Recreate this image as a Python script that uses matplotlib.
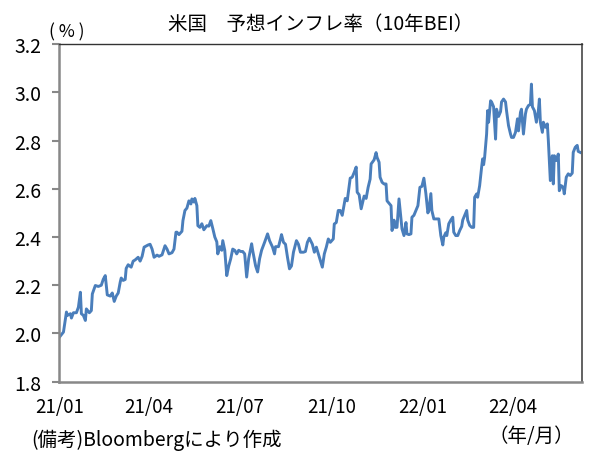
import numpy as np
import pandas as pd
import matplotlib
matplotlib.use("Agg")
import matplotlib.pyplot as plt
import matplotlib.dates as mdates

plt.rcParams['font.family'] = ['Noto Sans CJK JP', 'DejaVu Sans']

# days counted from 2021-01-01
days = [0, 4, 7, 8, 11, 12, 14, 17, 19, 21, 22, 24, 26, 27, 30, 32, 33, 36, 39, 42,
        44, 46, 48, 51, 53, 55, 57, 59, 61, 62, 64, 66, 67, 69, 72, 74, 76, 79, 81, 83,
        85, 89, 91, 93, 95, 98, 100, 103, 106, 108, 110, 113, 115, 117, 118, 120, 123, 124, 126, 128,
        130, 132, 133, 135, 136, 138, 139, 141, 143, 145, 148, 150, 152, 154, 156, 158, 159, 161, 163, 164,
        166, 168, 170, 172, 174, 176, 178, 180, 182, 184, 186, 188, 190, 193, 194, 197, 199, 201, 203, 206,
        209, 211, 214, 216, 217, 220, 222, 223, 225, 227, 229, 231, 233, 235, 238, 240, 242, 245, 247, 249,
        251, 254, 256, 258, 260, 262, 264, 266, 268, 270, 272, 275, 276, 278, 280, 282, 284, 287, 289, 292,
        294, 296, 298, 299, 301, 303, 306, 308, 310, 312, 313, 316, 318, 319, 321, 322, 324, 326, 328, 329,
        331, 333, 334, 336, 337, 339, 341, 343, 344, 346, 348, 349, 351, 353, 354, 356, 358, 360, 362, 364,
        366, 368, 370, 371, 373, 374, 376, 379, 381, 383, 385, 386, 388, 389, 391, 393, 395, 396, 398, 400,
        402, 404, 405, 407, 409, 410, 412, 414, 416, 417, 419, 420, 422, 424, 425, 426, 427, 429, 430, 431,
        433, 434, 436, 438, 439, 441, 443, 444, 446, 448, 449, 451, 453, 454, 456, 458, 460, 461, 463, 464,
        466, 468, 469, 471, 473, 474, 475, 477, 479, 481, 482, 483, 485, 486, 488, 490, 491, 492, 493, 495,
        496, 497, 499, 501, 502, 504, 506, 507, 509, 511, 513, 515, 516, 518, 520, 521, 523]

bei = [1.985, 2.006, 2.089, 2.075, 2.082, 2.064, 2.086, 2.086, 2.109, 2.171, 2.082, 2.075, 2.054, 2.102, 2.086, 2.095, 2.164, 2.199, 2.195, 2.200,
       2.225, 2.240, 2.160, 2.155, 2.168, 2.133, 2.155, 2.168, 2.213, 2.230, 2.220, 2.224, 2.270, 2.285, 2.275, 2.300, 2.305, 2.316, 2.300, 2.320,
       2.358, 2.367, 2.370, 2.350, 2.316, 2.325, 2.320, 2.326, 2.364, 2.350, 2.330, 2.335, 2.350, 2.420, 2.420, 2.410, 2.424, 2.468, 2.510, 2.520,
       2.550, 2.537, 2.558, 2.545, 2.560, 2.530, 2.447, 2.440, 2.455, 2.430, 2.447, 2.445, 2.468, 2.435, 2.400, 2.380, 2.330, 2.360, 2.345, 2.385,
       2.345, 2.240, 2.280, 2.310, 2.350, 2.345, 2.330, 2.345, 2.340, 2.340, 2.330, 2.234, 2.310, 2.372, 2.345, 2.280, 2.255, 2.310, 2.345, 2.378,
       2.413, 2.385, 2.358, 2.330, 2.360, 2.360, 2.392, 2.410, 2.378, 2.370, 2.316, 2.268, 2.280, 2.337, 2.385, 2.370, 2.337, 2.337, 2.340, 2.378,
       2.395, 2.370, 2.337, 2.358, 2.330, 2.302, 2.275, 2.330, 2.358, 2.392, 2.378, 2.392, 2.454, 2.460, 2.510, 2.510, 2.490, 2.560, 2.550, 2.644,
       2.648, 2.668, 2.690, 2.586, 2.575, 2.517, 2.570, 2.560, 2.606, 2.640, 2.703, 2.720, 2.750, 2.730, 2.710, 2.648, 2.627, 2.620, 2.620, 2.550,
       2.540, 2.530, 2.427, 2.470, 2.440, 2.440, 2.558, 2.475, 2.434, 2.406, 2.460, 2.413, 2.410, 2.413, 2.482, 2.490, 2.510, 2.530, 2.606, 2.610,
       2.644, 2.580, 2.500, 2.510, 2.580, 2.510, 2.475, 2.475, 2.475, 2.406, 2.367, 2.400, 2.418, 2.406, 2.455, 2.470, 2.482, 2.420, 2.406, 2.406,
       2.427, 2.444, 2.470, 2.490, 2.510, 2.470, 2.448, 2.440, 2.440, 2.565, 2.579, 2.565, 2.613, 2.690, 2.724, 2.700, 2.730, 2.827, 2.924, 2.876,
       2.965, 2.960, 2.940, 2.806, 2.930, 2.900, 2.920, 2.960, 2.972, 2.960, 2.924, 2.862, 2.827, 2.813, 2.813, 2.834, 2.890, 2.840, 2.917, 2.930,
       2.827, 2.910, 2.930, 2.945, 2.950, 3.034, 2.940, 2.924, 2.876, 2.924, 2.972, 2.876, 2.834, 2.876, 2.855, 2.869, 2.800, 2.717, 2.634, 2.737,
       2.620, 2.737, 2.717, 2.744, 2.592, 2.613, 2.606, 2.579, 2.648, 2.662, 2.655, 2.665, 2.751, 2.772, 2.780, 2.755, 2.751]

tick_dates = ['2021-01-01', '2021-04-01', '2021-07-01', '2021-10-01', '2022-01-01', '2022-04-01']

start = pd.Timestamp('2021-01-01')
dates = start + pd.to_timedelta(days, unit='D')

fig = plt.figure(figsize=(5.96, 4.6), dpi=100)
ax = fig.add_axes([0.0998, 0.168, 0.8762, 0.734])

ax.plot(dates, bei, color='#4a7ebb', lw=2.1)

ax.set_ylim(1.8, 3.2)
ax.set_yticks(np.arange(1.8, 3.21, 0.2))
ax.set_yticklabels(['%.1f' % v for v in np.arange(1.8, 3.21, 0.2)])
ax.set_xlim(start, start + pd.Timedelta(days=524.5))
ax.set_xticks(pd.to_datetime(tick_dates))
ax.xaxis.set_major_formatter(mdates.DateFormatter('%y/%m'))

ax.tick_params(axis='y', direction='out', length=5, width=1.5, color='#888888',
               labelsize=14, pad=8)
ax.tick_params(axis='x', length=0, labelsize=13.5, pad=10)

ax.spines['left'].set_color('#888888')
ax.spines['left'].set_linewidth(1.8)
ax.spines['bottom'].set_color('#888888')
ax.spines['bottom'].set_linewidth(1.8)
ax.spines['top'].set_color('#333333')
ax.spines['top'].set_linewidth(1.0)
ax.spines['right'].set_color('#555555')
ax.spines['right'].set_linewidth(1.3)

ax.set_title('米国\u3000予想インフレ率（10年BEI）', fontsize=14, pad=11)

fig.text(0.083, 0.93, '( % )', fontsize=12.5, ha='left', va='center')
fig.text(0.052, 0.043, '(備考)Bloombergにより作成', fontsize=14, ha='left', va='center')
fig.text(0.964, 0.052, '（年/月）', fontsize=14, ha='right', va='center')

fig.savefig('out.png', dpi=100)
